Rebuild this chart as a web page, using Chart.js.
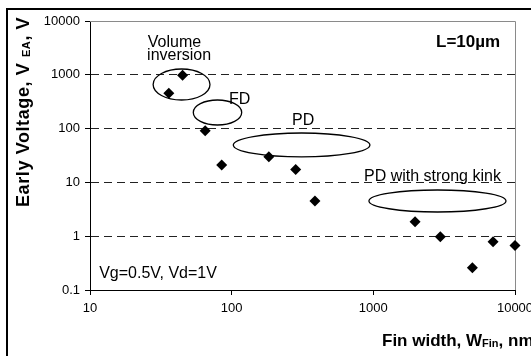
<!DOCTYPE html>
<html>
<head>
<meta charset="utf-8">
<script src="https://cdn.jsdelivr.net/npm/chart.js@4.4.0/dist/chart.umd.min.js"></script>
<style>
  html, body { margin:0; padding:0; background:#fff; overflow:hidden; width:531px; height:356px; }
  #frame { position:absolute; left:6px; top:8px; width:600px; height:400px; border:2px solid #000; }
  #wrap { position:absolute; left:0; top:0; width:560px; height:380px; }
</style>
</head>
<body>
<div id="frame"></div>
<div id="wrap"><canvas id="chart" width="560" height="380"></canvas></div>
<script>
// Data (fin width in nm, Early voltage in V)
const finWidth = [36, 45, 65, 85, 183, 283, 387, 1970, 2970, 5000, 7000, 10000];
const earlyVoltage = [453, 980, 91, 21, 30, 17.4, 4.5, 1.86, 0.98, 0.26, 0.79, 0.67];
const xTicks = [10, 100, 1000, 10000];
const yTicks = [0.1, 1, 10, 100, 1000, 10000];

// Ellipse regions, bounds in data units
const regionX = [[27.9, 70.3], [53.6, 117.7], [102.7, 946], [931, 8636]];
const regionY = [[340, 1282], [116.7, 340], [29.7, 82.8], [2.82, 7.22]];

// Text notes, anchored in data units (left, baseline)
const noteText = ['Volume', 'inversion', 'FD', 'PD', 'PD with strong kink', 'Vg=0.5V, Vd=1V'];
const noteX = [25.6, 25.3, 95.8, 266.6, 859, 11.6];
const noteY = [3290, 1884, 286, 116.7, 10.6, 0.167];

const FONT = '"Liberation Sans", Arial, Helvetica, sans-serif';

// draw text with a subscript part; parts = [[text, isSub], ...]
function drawParts(ctx, parts, size, subSize) {
  let x = 0;
  parts.forEach(p => {
    ctx.font = 'bold ' + (p[1] ? subSize : size) + 'px ' + FONT;
    ctx.fillText(p[0], x, p[1] ? 1 : 0);
    x += ctx.measureText(p[0]).width;
  });
}

const decor = {
  id: 'decor',
  beforeDatasetsDraw(chart) {
    const {ctx, chartArea: a, scales: {x, y}} = chart;
    ctx.save();
    // light top/right frame of plot area
    ctx.strokeStyle = '#8a8a8a';
    ctx.lineWidth = 1;
    ctx.beginPath();
    ctx.moveTo(a.left, a.top + 0.5);
    ctx.lineTo(a.right + 0.5, a.top + 0.5);
    ctx.lineTo(a.right + 0.5, a.bottom);
    ctx.stroke();

    // ellipses
    ctx.strokeStyle = '#000';
    ctx.lineWidth = 1.3;
    regionX.forEach((r, i) => {
      const x0 = x.getPixelForValue(r[0]), x1 = x.getPixelForValue(r[1]);
      const y0 = y.getPixelForValue(regionY[i][1]), y1 = y.getPixelForValue(regionY[i][0]);
      ctx.beginPath();
      ctx.ellipse((x0 + x1) / 2, (y0 + y1) / 2, (x1 - x0) / 2, (y1 - y0) / 2, 0, 0, Math.PI * 2);
      ctx.stroke();
    });

    // notes
    ctx.fillStyle = '#000';
    ctx.textAlign = 'left';
    ctx.textBaseline = 'alphabetic';
    ctx.font = '16px ' + FONT;
    noteText.forEach((t, i) => {
      ctx.fillText(t, x.getPixelForValue(noteX[i]), y.getPixelForValue(noteY[i]));
    });
    ctx.font = 'bold 17px ' + FONT;
    ctx.fillText('L=10\u00b5m', x.getPixelForValue(2770), y.getPixelForValue(3290));
    ctx.restore();
  },
  afterDraw(chart) {
    const ctx = chart.ctx;
    ctx.save();
    ctx.fillStyle = '#000';
    ctx.textAlign = 'left';
    ctx.textBaseline = 'alphabetic';
    // y title, rotated
    ctx.save();
    ctx.translate(28.5, 207);
    ctx.rotate(-Math.PI / 2);
    ctx.letterSpacing = '0.6px';
    drawParts(ctx, [['Early Voltage, V ', false], ['EA', true], [', V', false]], 18, 11);
    ctx.restore();
    // x title
    ctx.save();
    ctx.translate(382, 346);
    drawParts(ctx, [['Fin width, W', false], ['Fin', true], [', nm', false]], 17, 11);
    ctx.restore();
    ctx.restore();
  }
};

const tickFont = {family: FONT, size: 13};

new Chart(document.getElementById('chart'), {
  type: 'scatter',
  data: {
    datasets: [{
      data: finWidth.map((w, i) => ({x: w, y: earlyVoltage[i]})),
      pointStyle: 'rectRot',
      pointRadius: 5.5,
      pointHoverRadius: 5.5,
      backgroundColor: '#000',
      borderColor: '#000',
      borderWidth: 0,
      clip: false
    }]
  },
  options: {
    responsive: false,
    animation: false,
    layout: {padding: {left: 0, top: 21, right: 45, bottom: 0}},
    plugins: {legend: {display: false}, tooltip: {enabled: false}},
    scales: {
      x: {
        type: 'logarithmic',
        min: 10, max: 10000,
        afterBuildTicks: s => { s.ticks = xTicks.map(v => ({value: v})); },
        afterFit: s => { s.height = 90; },
        grid: {drawOnChartArea: false, drawTicks: true, tickLength: 5, tickColor: '#000'},
        border: {color: '#000', width: 1},
        ticks: {color: '#000', font: tickFont, padding: 6, maxRotation: 0, autoSkip: false,
                callback: v => String(v)}
      },
      y: {
        type: 'logarithmic',
        min: 0.1, max: 10000,
        afterBuildTicks: s => { s.ticks = yTicks.map(v => ({value: v})); },
        afterFit: s => { s.width = 90; },
        grid: {
          color: c => (c.tick && c.tick.value > 0.1 && c.tick.value < 10000) ? '#222' : 'rgba(0,0,0,0)',
          tickColor: '#000', tickLength: 5, tickBorderDash: [], lineWidth: 1
        },
        border: {color: '#000', width: 1, dash: [8, 5]},
        ticks: {color: '#000', font: tickFont, padding: 5, autoSkip: false,
                callback: v => String(v)}
      }
    }
  },
  plugins: [decor]
});
</script>
</body>
</html>
